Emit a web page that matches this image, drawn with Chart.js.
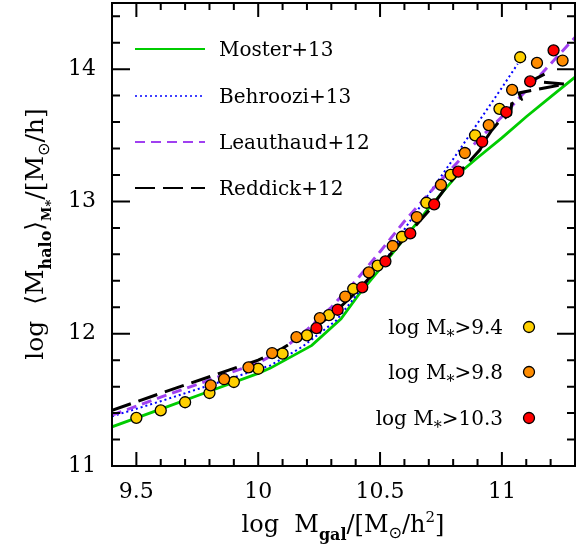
<!DOCTYPE html>
<html><head><meta charset="utf-8">
<script src="https://cdn.jsdelivr.net/npm/chart.js@4/dist/chart.umd.min.js"></script>
<style>html,body{margin:0;padding:0;background:#fff;}</style>
</head><body>
<canvas id="c" width="578" height="548"></canvas>
<script>
// ---- data ----
const xMajorTicks = [9.5, 10, 10.5, 11];
const yMajorTicks = [11, 12, 13, 14];
const lineNames = ['Moster+13', 'Behroozi+13', 'Leauthaud+12', 'Reddick+12'];
const sampleLabels = ['>9.4', '>9.8', '>10.3'];

const mosterX = [9.4, 9.6, 9.8, 10.0, 10.05, 10.22, 10.34, 10.41, 10.5, 10.6, 10.7, 10.82, 10.9, 11.0, 11.1, 11.2, 11.3];
const mosterY = [11.296, 11.43, 11.565, 11.70, 11.74, 11.912, 12.113, 12.289, 12.49, 12.72, 12.95, 13.206, 13.33, 13.48, 13.64, 13.79, 13.94];

const behrooziX = [9.4, 9.6, 9.8, 10.0, 10.05, 10.18, 10.32, 10.45, 10.56, 10.6, 10.7, 10.8, 10.9, 11.0, 11.065];
const behrooziY = [11.375, 11.49, 11.61, 11.73, 11.76, 11.90, 12.10, 12.40, 12.65, 12.79, 13.056, 13.32, 13.59, 13.86, 14.04];

const leauthaudX = [9.4, 9.6, 9.8, 10.0, 10.1, 10.2, 10.3, 10.4, 10.5, 10.6, 10.7, 10.8, 10.9, 11.0, 11.1, 11.2, 11.3];
const leauthaudY = [11.384, 11.52, 11.65, 11.78, 11.88, 12.03, 12.20, 12.40, 12.62, 12.85, 13.06, 13.26, 13.46, 13.64, 13.84, 14.04, 14.24];

const reddickX = [9.4, 9.6, 9.8, 10.0, 10.1, 10.2, 10.3, 10.4, 10.5, 10.6, 10.7, 10.78, 10.85, 10.91, 10.93, 10.955, 10.99, 11.036, 11.04, 11.08, 11.07, 11.18, 11.26, 11.12, 11.19];
const reddickY = [11.42, 11.55, 11.675, 11.80, 11.89, 12.00, 12.14, 12.31, 12.51, 12.72, 12.93, 13.13, 13.27, 13.39, 13.46, 13.53, 13.607, 13.658, 13.738, 13.771, 13.82, 13.86, 13.886, 13.91, 13.977];

const sample94X = [9.5, 9.6, 9.7, 9.8, 9.9, 10.0, 10.1, 10.2, 10.29, 10.39, 10.49, 10.59, 10.69, 10.79, 10.89, 10.99, 11.075];
const sample94Y = [11.364, 11.42, 11.482, 11.552, 11.635, 11.735, 11.849, 11.987, 12.14, 12.339, 12.515, 12.733, 12.99, 13.20, 13.50, 13.70, 14.09];

const sample98X = [9.805, 9.86, 9.96, 10.057, 10.157, 10.253, 10.357, 10.454, 10.552, 10.651, 10.75, 10.848, 10.946, 11.042, 11.144, 11.249];
const sample98Y = [11.61, 11.656, 11.746, 11.854, 11.974, 12.118, 12.281, 12.464, 12.663, 12.882, 13.125, 13.366, 13.577, 13.843, 14.047, 14.065];

const sample103X = [10.239, 10.326, 10.427, 10.522, 10.624, 10.722, 10.821, 10.919, 11.018, 11.116, 11.212];
const sample103Y = [12.042, 12.181, 12.351, 12.547, 12.758, 12.978, 13.225, 13.451, 13.675, 13.907, 14.142];

// ---- build ----
const pts = (xs, ys) => xs.map((x, i) => ({x: x, y: ys[i]}));
const SERIF = '"DejaVu Serif", serif';
const SANS = '"DejaVu Sans", sans-serif';

function pointDs(label, xs, ys, color) {
  return {label, data: pts(xs, ys), showLine: false, pointRadius: 5.5, pointBorderWidth: 1.3,
    pointBackgroundColor: color, pointBorderColor: '#000', pointHoverRadius: 5.5, isSample: true};
}
function lineDs(label, xs, ys, color, width, dash) {
  return {label, data: pts(xs, ys), showLine: true, pointRadius: 0, borderColor: color,
    borderWidth: width, borderDash: dash, borderCapStyle: 'butt', tension: 0, fill: false};
}

const datasets = [
  pointDs(sampleLabels[2], sample103X, sample103Y, '#ff0000'),
  pointDs(sampleLabels[1], sample98X, sample98Y, '#ff8c00'),
  pointDs(sampleLabels[0], sample94X, sample94Y, '#ffd000'),
  lineDs(lineNames[3], reddickX, reddickY, '#000000', 3, [20, 8]),
  lineDs(lineNames[2], leauthaudX, leauthaudY, '#a040f0', 3, [10, 6]),
  lineDs(lineNames[1], behrooziX, behrooziY, '#0000ff', 2, [2, 3]),
  lineDs(lineNames[0], mosterX, mosterY, '#00cc00', 2.8, [])
];

function drawRich(ctx, parts, x, y, align) {
  let w = 0;
  parts.forEach(p => { ctx.font = (p.b ? 'bold ' : '') + p.s + 'px ' + (p.f || SERIF); p.w = ctx.measureText(p.t).width; w += p.w; });
  let cx = align === 'center' ? x - w / 2 : (align === 'right' ? x - w : x);
  ctx.textAlign = 'left'; ctx.textBaseline = 'alphabetic';
  parts.forEach(p => { ctx.font = (p.b ? 'bold ' : '') + p.s + 'px ' + (p.f || SERIF); ctx.fillText(p.t, cx, y + (p.dy || 0)); cx += p.w; });
}

const decor = {
  id: 'decor',
  afterDraw(chart) {
    const ctx = chart.ctx, xs = chart.scales.x, ys = chart.scales.y, a = chart.chartArea;
    ctx.save();
    ctx.strokeStyle = '#000'; ctx.fillStyle = '#000'; ctx.lineWidth = 2;
    // frame
    ctx.strokeRect(a.left, a.top, a.right - a.left, a.bottom - a.top);
    // x ticks (inward, bottom and top)
    for (let v = Math.ceil(xs.min * 10 - 1e-6); v <= Math.floor(xs.max * 10 + 1e-6); v++) {
      const val = v / 10, px = xs.getPixelForValue(val);
      const major = xMajorTicks.some(t => Math.abs(t - val) < 1e-6);
      const L = major ? 14 : 7;
      ctx.beginPath(); ctx.moveTo(px, a.bottom); ctx.lineTo(px, a.bottom - L);
      ctx.moveTo(px, a.top); ctx.lineTo(px, a.top + L); ctx.stroke();
    }
    // y ticks (inward, left and right)
    for (let v = Math.ceil(ys.min * 5 - 1e-6); v <= Math.floor(ys.max * 5 + 1e-6); v++) {
      const val = v / 5, py = ys.getPixelForValue(val);
      const major = yMajorTicks.some(t => Math.abs(t - val) < 1e-6);
      const L = major ? 18 : 8;
      ctx.beginPath(); ctx.moveTo(a.left, py); ctx.lineTo(a.left + L, py);
      ctx.moveTo(a.right, py); ctx.lineTo(a.right - L, py); ctx.stroke();
    }
    // axis titles
    drawRich(ctx, [
      {t: 'log  M', s: 24}, {t: 'gal', s: 16, b: true, dy: 8}, {t: '/[M', s: 24},
      {t: '\u2299', s: 16, dy: 6, f: SANS}, {t: '/h', s: 24}, {t: '2', s: 15, dy: -10}, {t: ']', s: 24}
    ], 343, 532, 'center');
    ctx.save();
    ctx.translate(43, 234);
    ctx.rotate(-Math.PI / 2);
    drawRich(ctx, [
      {t: 'log  ', s: 25}, {t: '\u27E8', s: 25, f: SANS}, {t: 'M', s: 25},
      {t: 'halo', s: 16, b: true, dy: 8}, {t: '\u27E9', s: 25, f: SANS},
      {t: 'M', s: 13, b: true, dy: 8}, {t: '*', s: 13, b: true, dy: 12}, {t: '/[M', s: 25},
      {t: '\u2299', s: 16, dy: 6, f: SANS}, {t: '/h]', s: 25}
    ], 0, 0, 'center');
    ctx.restore();
    // line legend (top-left)
    const lineRows = [49, 96, 142, 188];
    const lineSets = chart.data.datasets.filter(d => !d.isSample);
    lineNames.forEach((name, i) => {
      const d = lineSets.find(s => s.label === name);
      const y = lineRows[i];
      ctx.save();
      ctx.strokeStyle = d.borderColor; ctx.lineWidth = Math.min(d.borderWidth, 2.5) - 0.5;
      ctx.setLineDash(d.borderDash || []); ctx.lineCap = 'butt';
      ctx.beginPath(); ctx.moveTo(135, y); ctx.lineTo(205, y); ctx.stroke();
      ctx.restore();
      ctx.fillStyle = '#000';
      drawRich(ctx, [{t: name, s: 20}], 219, y + 7, 'left');
    });
    // sample legend (bottom-right)
    const sampleRows = [327, 372, 418];
    const sampleSets = chart.data.datasets.filter(d => d.isSample);
    sampleLabels.forEach((lab, i) => {
      const d = sampleSets.find(s => s.label === lab);
      const y = sampleRows[i];
      ctx.fillStyle = '#000';
      drawRich(ctx, [{t: 'log M', s: 20}, {t: '*', s: 16, dy: 8}, {t: lab, s: 20}], 503, y + 7, 'right');
      ctx.beginPath(); ctx.arc(529, y, 5.5, 0, Math.PI * 2);
      ctx.fillStyle = d.pointBackgroundColor; ctx.fill();
      ctx.lineWidth = 1.3; ctx.strokeStyle = '#000'; ctx.stroke();
    });
    ctx.restore();
  }
};

new Chart(document.getElementById('c'), {
  type: 'scatter',
  data: {datasets},
  options: {
    responsive: false, animation: false, devicePixelRatio: 1,
    layout: {autoPadding: false, padding: {left: 0, right: 3, top: 3, bottom: 0}},
    plugins: {legend: {display: false}, tooltip: {enabled: false}},
    scales: {
      x: {
        type: 'linear', min: 9.4, max: 11.3,
        grid: {display: false, drawTicks: false}, border: {display: false},
        afterBuildTicks: s => { s.ticks = xMajorTicks.map(v => ({value: v})); },
        afterFit: s => { s.height = 82; s.paddingLeft = 0; s.paddingRight = 0; },
        ticks: {padding: 13, color: '#000', font: {family: SERIF, size: 22}, maxRotation: 0,
          callback: v => String(v)}
      },
      y: {
        type: 'linear', min: 11, max: 14.5,
        grid: {display: false, drawTicks: false}, border: {display: false},
        afterBuildTicks: s => { s.ticks = yMajorTicks.map(v => ({value: v})); },
        afterFit: s => { s.width = 112; s.paddingTop = 0; s.paddingBottom = 0; },
        ticks: {padding: 16, color: '#000', font: {family: SERIF, size: 22},
          callback: v => String(v)}
      }
    }
  },
  plugins: [decor]
});
</script>
</body></html>
